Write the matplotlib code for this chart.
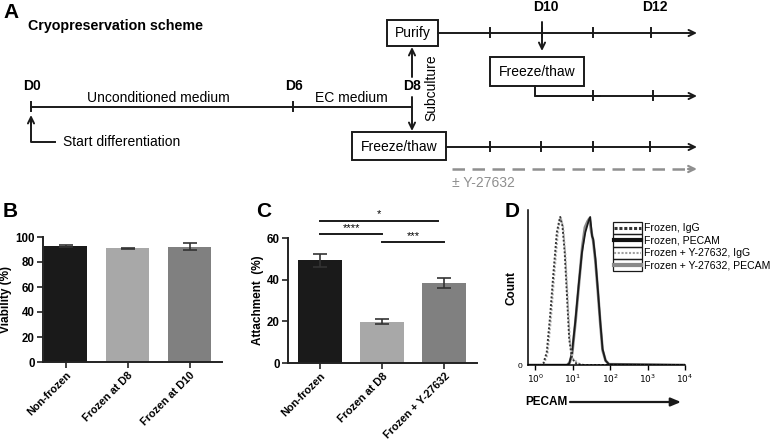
import numpy as np
import matplotlib
matplotlib.use("Agg")
import matplotlib.pyplot as plt
from matplotlib.patches import Rectangle
from matplotlib.ticker import LogLocator, NullFormatter, FixedLocator

plt.rcParams['font.family'] = ['Liberation Sans', 'DejaVu Sans']

# ---------------- data ----------------
b_categories = ["Non-frozen", "Frozen at D8", "Frozen at D10"]
b_values = [92.8, 91.0, 92.3]
b_errors = [0.8, 0.6, 2.6]
b_colors = ["#1a1a1a", "#a8a8a8", "#808080"]
b_yticks = [0, 20, 40, 60, 80, 100]

c_categories = ["Non-frozen", "Frozen at D8", "Frozen + Y-27632"]
c_values = [49.4, 19.8, 38.2]
c_errors = [3.1, 1.3, 2.4]
c_colors = ["#1a1a1a", "#a8a8a8", "#808080"]
c_yticks = [0, 20, 40, 60]
c_sig_pairs = [(0, 2), (0, 1), (1, 2)]
c_sig_levels = [68.3, 61.7, 57.9]
c_sig_labels = ["*", "****", "***"]

# flow cytometry histograms (log10 fluorescence, % of max count)
igg_log = [-0.19, 0.15, 0.22, 0.31, 0.40, 0.49, 0.58, 0.64, 0.67, 0.73, 0.79, 0.85, 0.91, 0.98, 1.07, 1.15, 1.3, 4.0]
igg_cnt = [0, 0, 1, 8.5, 33, 62.6, 89.6, 97, 100, 94, 76, 47, 17.6, 5, 1.5, 0.5, 0, 0]
igg_y_log = [-0.19, 0.17, 0.24, 0.33, 0.42, 0.51, 0.60, 0.66, 0.69, 0.75, 0.81, 0.87, 0.93, 1.00, 1.09, 1.18, 1.3, 4.0]
igg_y_cnt = [0, 0, 1, 7, 30, 60, 87, 98, 99, 93, 74, 45, 16, 4.5, 2.5, 0.8, 0, 0]
pecam_log = [-0.19, 0.85, 0.91, 0.98, 1.07, 1.16, 1.25, 1.34, 1.43, 1.47, 1.52, 1.55, 1.61, 1.68, 1.74, 1.80, 1.88, 1.97, 4.0]
pecam_cnt = [0, 0, 1, 7.4, 28.8, 53.6, 76, 89.6, 97.5, 100, 87, 85, 71.6, 49, 28.8, 10.8, 3, 0.5, 0]
pecam_y_log = [-0.19, 0.85, 0.92, 0.99, 1.08, 1.17, 1.26, 1.33, 1.40, 1.45, 1.50, 1.55, 1.61, 1.68, 1.74, 1.80, 1.88, 1.97, 4.0]
pecam_y_cnt = [0, 0, 1.5, 8, 30, 55, 80, 93, 97, 99, 90, 84, 70, 48, 28, 10, 3, 0.5, 0]
d_xticks_exp = [0, 1, 2, 3, 4]
d_legend = ["Frozen, IgG", "Frozen, PECAM", "Frozen + Y-27632, IgG", "Frozen + Y-27632, PECAM"]

# scheme (panel A) positions in figure pixels
day_labels = ["D0", "D6", "D8"]
day_x = [31, 293, 412]
top_ticks = [490, 542, 593, 651]
mid_ticks = [593, 653]
bot_ticks = [490, 541, 593, 650]

W, H = 777, 444
fig = plt.figure(figsize=(W / 100, H / 100), dpi=100)

# ---------------- overlay (panel A and annotations) ----------------
ov = fig.add_axes([0, 0, 1, 1])
ov.set_xlim(0, W)
ov.set_ylim(H, 0)
ov.axis("off")

LW = 1.4
K = "#1a1a1a"
fs = 10

def arrow(x0, y0, x1, y1, color=K, lw=LW):
    ov.annotate("", xy=(x1, y1), xytext=(x0, y0),
                arrowprops=dict(arrowstyle="->,head_length=0.45,head_width=0.22",
                                color=color, lw=lw, shrinkA=0, shrinkB=0))

def box(x0, y0, x1, y1, text):
    ov.add_patch(Rectangle((x0, y0), x1 - x0, y1 - y0, fill=False, ec=K, lw=LW))
    ov.text((x0 + x1) / 2, (y0 + y1) / 2 + 0.5, text, ha="center", va="center", fontsize=fs)

def ticks(xs, y, h=4.5):
    for x in xs:
        ov.plot([x, x], [y - h, y + h], color=K, lw=LW)

# panel letters
for lab, x, y in [("A", 3, 12), ("B", 3, 211), ("C", 256, 211), ("D", 505, 211)]:
    ov.text(x, y, lab, fontsize=15, fontweight="bold", ha="left", va="center")

ov.text(28, 26, "Cryopreservation scheme", fontsize=10.3, fontweight="bold", ha="left", va="center")

# main timeline
ov.plot([day_x[0], day_x[2]], [107, 107], color=K, lw=LW)
ticks(day_x[:2], 107)
for lab, x in zip(day_labels[:2], day_x[:2]):
    ov.text(x + 1, 86, lab, fontsize=fs, fontweight="bold", ha="center", va="center")
ov.text(158, 98, "Unconditioned medium", fontsize=fs, ha="center", va="center")
ov.text(351, 98, "EC medium", fontsize=fs, ha="center", va="center")

# start differentiation
ov.plot([31, 31, 55], [118, 142, 142], color=K, lw=LW)
arrow(31, 125, 31, 115)
ov.text(63, 142, "Start differentiation", fontsize=fs, ha="left", va="center")

# D8 junction
ov.text(412, 86, day_labels[2], fontsize=fs, fontweight="bold", ha="center", va="center")
arrow(412, 77, 412, 47)
arrow(412, 97, 412, 131)
ov.text(431, 88, "Subculture", fontsize=fs, rotation=90, ha="center", va="center")

# boxes
box(387, 20, 438, 46, "Purify")
box(490, 57, 584, 86, "Freeze/thaw")
box(352, 132, 446, 160, "Freeze/thaw")

# top line
arrow(438, 33, 697, 33)
ticks(top_ticks, 33)
ov.text(546, 7, "D10", fontsize=fs, fontweight="bold", ha="center", va="center")
ov.text(655, 7, "D12", fontsize=fs, fontweight="bold", ha="center", va="center")
arrow(542, 22, 542, 51)

# middle line
ov.plot([535, 535, 600], [86, 96, 96], color=K, lw=LW)
arrow(535, 96, 697, 96)
ticks(mid_ticks, 96)

# bottom line
arrow(446, 147, 697, 147)
ticks(bot_ticks, 147)

# dashed gray
GR = "#8f8f8f"
ov.plot([452, 690], [169, 169], color=GR, lw=1.8, ls=(0, (5, 3)))
arrow(688, 169, 697, 169, color=GR, lw=1.6)
ov.text(452, 183, "± Y-27632", fontsize=fs, color=GR, ha="left", va="center")

# ---------------- helpers ----------------
def pix_axes(left, right, top, bottom):
    return fig.add_axes([left / W, (H - bottom) / H, (right - left) / W, (bottom - top) / H])

def style_bar_axes(ax):
    for s in ["top", "right"]:
        ax.spines[s].set_visible(False)
    for s in ["left", "bottom"]:
        ax.spines[s].set_linewidth(1.4)
        ax.spines[s].set_color("#222222")
    ax.tick_params(width=1.2, length=4, color="#222222", pad=2)
    ax.tick_params(axis="y", labelsize=8.3)
    ax.tick_params(axis="x", labelsize=7.8)
    for t in ax.get_yticklabels() + ax.get_xticklabels():
        t.set_fontweight("bold")
    ax.set_facecolor("none")

# ---------------- panel B ----------------
axb = pix_axes(43, 222, 237, 362)
xb = np.arange(len(b_categories))
axb.bar(xb, b_values, width=0.69, color=b_colors, yerr=b_errors,
        error_kw=dict(ecolor="#333333", elinewidth=1.2, capsize=5, capthick=1.2))
axb.set_xlim(-0.363, 2.516)
axb.set_ylim(0, 100)
axb.set_yticks(b_yticks)
axb.set_xticks(xb)
axb.set_xticklabels(b_categories, rotation=45, ha="right", rotation_mode="anchor")
axb.set_ylabel("Viability (%)", fontsize=8.5, fontweight="bold", labelpad=2)
style_bar_axes(axb)

# ---------------- panel C ----------------
axc = pix_axes(288, 477, 238, 363)
xc = np.arange(len(c_categories))
axc.bar(xc, c_values, width=0.71, color=c_colors, yerr=c_errors,
        error_kw=dict(ecolor="#333333", elinewidth=1.2, capsize=5, capthick=1.2))
axc.set_xlim(-0.516, 2.524)
axc.set_ylim(0, 60)
axc.set_yticks(c_yticks)
axc.set_xticks(xc)
axc.set_xticklabels(c_categories, rotation=45, ha="right", rotation_mode="anchor")
axc.set_ylabel("Attachment  (%)", fontsize=8.5, fontweight="bold", labelpad=2)
for (i, j), lvl, lab in zip(c_sig_pairs, c_sig_levels, c_sig_labels):
    xe = j - 0.1 if (i, j) == (0, 2) else j
    axc.plot([i, xe], [lvl, lvl], color=K, lw=1.4, clip_on=False)
    axc.text((i + xe) / 2, lvl + 0.8, lab, ha="center",
             va="bottom", fontsize=8, clip_on=False)
style_bar_axes(axc)

# ---------------- panel D ----------------
axd = pix_axes(528, 685, 210, 365)
axd.set_xscale("log")
axd.plot(10 ** np.array(pecam_y_log), pecam_y_cnt, color="#8a8a8a", lw=2.0)
axd.plot(10 ** np.array(pecam_log), pecam_cnt, color="#1a1a1a", lw=1.3)
axd.plot(10 ** np.array(igg_y_log), igg_y_cnt, color="#b0b0b0", lw=1.4, ls=(0, (1, 1)))
axd.plot(10 ** np.array(igg_log), igg_cnt, color="#333333", lw=1.4, ls=(0, (1, 1)))
axd.set_xlim(10 ** -0.19, 10 ** 4)
axd.set_ylim(0, 104.7)
for s in ["top", "right"]:
    axd.spines[s].set_visible(False)
for s in ["left", "bottom"]:
    axd.spines[s].set_linewidth(1.1)
axd.set_yticks([0])
axd.set_yticklabels(["0"], fontsize=6)
axd.tick_params(axis="y", length=0, pad=4)
axd.xaxis.set_major_locator(FixedLocator([10 ** e for e in d_xticks_exp]))
axd.set_xticklabels([r"$10^{%d}$" % e for e in d_xticks_exp], fontsize=6.5)
axd.xaxis.set_minor_locator(LogLocator(base=10, subs=np.arange(2, 10)))
axd.xaxis.set_minor_formatter(NullFormatter())
axd.tick_params(axis="x", which="major", length=3.5, width=1.0, pad=2)
axd.tick_params(axis="x", which="minor", length=2, width=0.8, direction="inout")
axd.set_ylabel("Count", fontsize=8.5, fontweight="bold")
axd.yaxis.set_label_coords(-0.065, 0.5)
axd.set_facecolor("none")

# legend for D (manual, boxed rows)
row_top = 222
row_h = 12.3
styles = [dict(color="#333333", lw=2.2, ls=(0, (1, 0.6))),
          dict(color="#111111", lw=3.0, ls="-"),
          dict(color="#a0a0a0", lw=1.5, ls=(0, (1, 0.8))),
          dict(color="#8a8a8a", lw=3.0, ls="-")]
for i, (lab, st) in enumerate(zip(d_legend, styles)):
    y0 = row_top + i * row_h
    ov.add_patch(Rectangle((613, y0), 29, row_h, fill=False, ec=K, lw=0.9))
    ov.plot([614, 641], [y0 + row_h / 2, y0 + row_h / 2], **st)
    ov.text(644, y0 + row_h / 2, lab, fontsize=7.6, ha="left", va="center")

# PECAM arrow label
ov.text(525, 402, "PECAM", fontsize=8.5, fontweight="bold", ha="left", va="center")
ov.annotate("", xy=(681, 402), xytext=(570, 402),
            arrowprops=dict(arrowstyle="-|>,head_length=0.6,head_width=0.25",
                            color=K, lw=1.6, shrinkA=0, shrinkB=0))

fig.savefig("out.png", dpi=100)
